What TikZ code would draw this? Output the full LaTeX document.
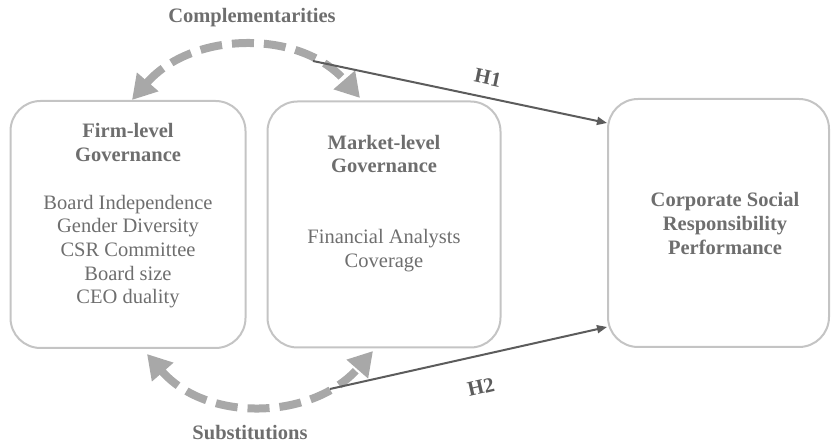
\documentclass[tikz,border=0pt]{standalone}
\usepackage{fontspec}
\setmainfont{Liberation Serif}
\usetikzlibrary{arrows.meta}
\definecolor{boxgray}{HTML}{C4C4C4}
\definecolor{txtgray}{HTML}{6E6E6E}
\definecolor{dashgray}{HTML}{A8A8A8}
\definecolor{hgray}{HTML}{5C5C5C}
\begin{document}
\begin{tikzpicture}[x=1pt,y=-1pt,
  govbox/.style={draw=boxgray,line width=2pt,rounded corners=30pt,inner sep=0pt},
  boxtext/.style={text=txtgray,align=center,font=\fontsize{20.5}{23.7}\selectfont},
  headlabel/.style={text=txtgray,font=\fontsize{20.5}{24}\selectfont\bfseries},
  dasharrow/.style={draw=dashgray,line width=8pt,dash pattern=on 22pt off 10pt,
    {Triangle[length=24pt,width=27pt]}-{Triangle[length=24pt,width=27pt]}},
  hyparrow/.style={draw=hgray,line width=2pt,-{Triangle[length=10pt,width=8pt]}},
  hyplabel/.style={text=hgray,font=\fontsize{21}{24}\selectfont\bfseries}]
\useasboundingbox (0,0) rectangle (831,443);
% boxes
\node[govbox,minimum width=235pt,minimum height=247pt] (firm) at (128,224.5) {};
\node[govbox,minimum width=233pt,minimum height=246pt] (market) at (384,224.5) {};
\node[govbox,minimum width=221pt,minimum height=248pt] (csr) at (718.5,223) {};
% box texts
\node[boxtext] (firmtext) at (128,216) {\textbf{Firm-level}\\\textbf{Governance}\\[23.7pt]Board Independence\\Gender Diversity\\CSR Committee\\Board size\\CEO duality};
\node[boxtext] (markettext) at (384,203.5) {\textbf{Market-level}\\\textbf{Governance}\\[47.4pt]Financial Analysts\\Coverage};
\node[boxtext,font=\fontsize{20.5}{23.7}\selectfont\bfseries] (csrtext) at (725,223.5) {Corporate Social\\Responsibility\\Performance};
% top and bottom labels
\node[headlabel] (comp) at (252,18) {Complementarities};
\node[headlabel] (subst) at (250,433) {Substitutions};
% arrow ends
\coordinate (cl) at (132,100);
\coordinate (cr) at (360,98);
\coordinate (sl) at (147,354);
\coordinate (sr) at (373,351);
\coordinate (h1s) at (313,61);
\coordinate (h2s) at (330,389);
\coordinate (h1e) at (607,123);
\coordinate (h2e) at (607,327);
% dashed curved arrows
\draw[dasharrow] (cl) .. controls (192,31) and (300,29) .. (cr);
\draw[dasharrow] (sl) .. controls (207,423) and (313,420) .. (sr);
% hypotheses
\draw[hyparrow] (h1s) -- (h1e);
\draw[hyparrow] (h2s) -- (h2e);
\node[hyplabel,rotate=-12] (h1) at (488,78) {H1};
\node[hyplabel,rotate=13] (h2) at (481,387) {H2};
\end{tikzpicture}
\end{document}
